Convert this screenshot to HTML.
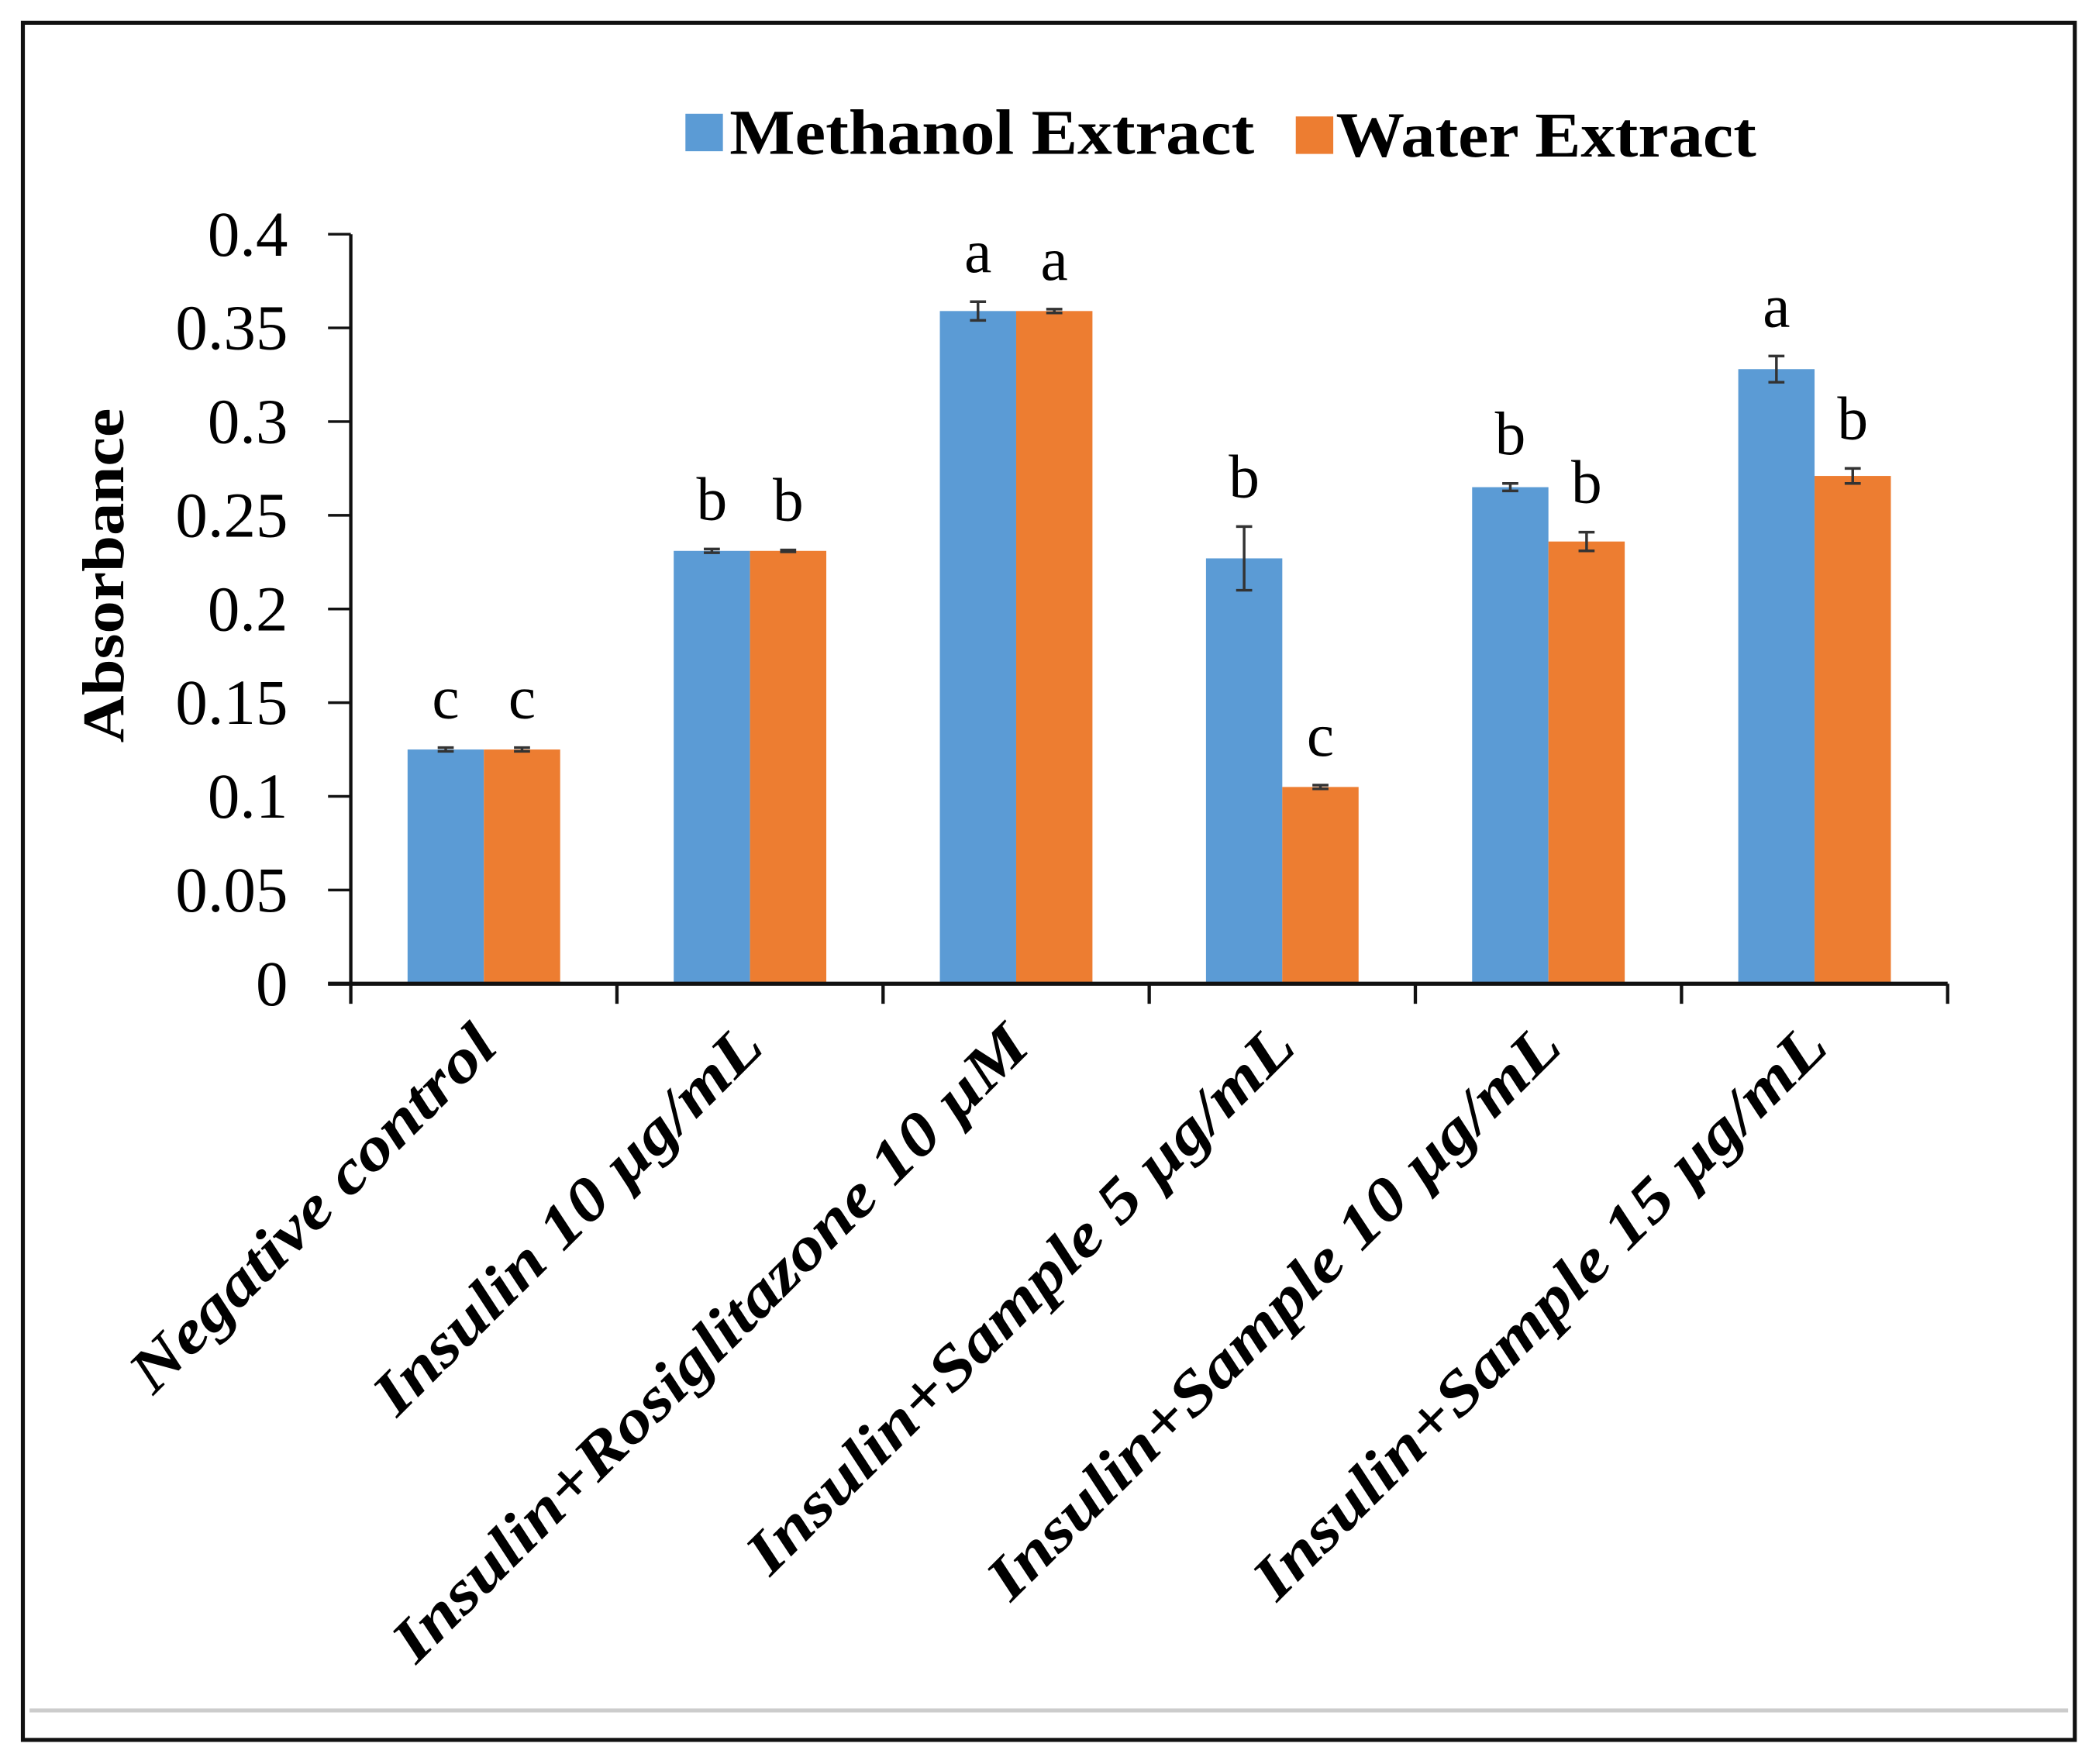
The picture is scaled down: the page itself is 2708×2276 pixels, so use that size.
<!DOCTYPE html>
<html><head><meta charset="utf-8"><style>html,body{margin:0;padding:0;background:#fff}svg{display:block}</style></head>
<body>
<svg width="2708" height="2276" viewBox="0 0 1568 1318" xmlns="http://www.w3.org/2000/svg" font-family="Liberation Serif, serif">
<rect x="17" y="17" width="1533" height="1283" fill="#fff" stroke="#111" stroke-width="3"/>
<line x1="22" y1="1278" x2="1545" y2="1278" stroke="#ccc" stroke-width="3"/>
<g>
<rect x="512" y="85" width="28" height="28" fill="#5b9bd5"/>
<text x="545" y="115" font-size="48" font-weight="bold" textLength="392" lengthAdjust="spacingAndGlyphs">Methanol Extract</text>
<rect x="968" y="87" width="28" height="28" fill="#ed7d31"/>
<text x="998" y="117" font-size="48" font-weight="bold" textLength="314" lengthAdjust="spacingAndGlyphs">Water Extract</text>
</g>
<text transform="translate(92,430) rotate(-90)" text-anchor="middle" font-size="44" font-weight="bold" textLength="250" lengthAdjust="spacingAndGlyphs">Absorbance</text>
<g id="plot"></g>
<script>
const categories = ["Negative control","Insulin 10 µg/mL","Insulin+Rosiglitazone 10 µM","Insulin+Sample 5 µg/mL","Insulin+Sample 10 µg/mL","Insulin+Sample 15 µg/mL"];
const methanol = [0.125,0.231,0.359,0.227,0.265,0.328];
const water = [0.125,0.231,0.359,0.105,0.236,0.271];
const methanolErr = [0.001,0.001,0.005,0.017,0.002,0.007];
const waterErr = [0.001,0.0005,0.001,0.001,0.005,0.004];
const methanolLetters = ["c","b","a","b","b","a"];
const waterLetters = ["c","b","a","c","b","b"];
const yTicks = [0,0.05,0.1,0.15,0.2,0.25,0.3,0.35,0.4];
const yTickLabels = ["0","0.05","0.1","0.15","0.2","0.25","0.3","0.35","0.4"];

const NS="http://www.w3.org/2000/svg";
const g=document.getElementById('plot');
const x0=262,x1=1455,yBase=735,yTop=175,yMax=0.4;
const step=(x1-x0)/categories.length;
const bw=57;
function y(v){return yBase-(v/yMax)*(yBase-yTop);}
function cx(i){return x0+step*(i+0.5);}
function mk(tag,attrs){const e=document.createElementNS(NS,tag);for(const k in attrs)e.setAttribute(k,attrs[k]);g.appendChild(e);return e;}

let e;
e=mk('line',{x1:x0,y1:yTop,x2:x0,y2:yBase,stroke:'#111','stroke-width':2.5});


yTicks.forEach((t,i)=>{
  e=mk('line',{x1:245,y1:y(t),x2:x0,y2:y(t),stroke:'#111','stroke-width':2});
  
  
  e=mk('text',{x:215,y:y(t)+16,'text-anchor':'end','font-size':48});
  e.textContent=yTickLabels[i];
  
  
});
categories.forEach((c,i)=>{
  const c0=cx(i);
  [[methanol,methanolErr,methanolLetters,'#5b9bd5',c0-bw,'methanol'],[water,waterErr,waterLetters,'#ed7d31',c0,'water']].forEach(s=>{
    const v=s[0][i],er=s[1][i],bx=s[4];
    e=mk('rect',{x:bx,y:y(v),width:bw,height:yBase-y(v),fill:s[3]});
    
    
    const m=bx+bw/2;
    e=mk('path',{d:`M${m},${y(v+er)}V${y(v-er)}M${m-6},${y(v+er)}H${m+6}M${m-6},${y(v-er)}H${m+6}`,stroke:'#333','stroke-width':2,fill:'none'});
    
    
    e=mk('text',{x:m,y:y(v+er)-22,'text-anchor':'middle','font-size':46});
    e.textContent=s[2][i];
    
    
  });
  e=mk('text',{transform:`translate(${c0+12},784) rotate(-45) scale(1.17,1)`,'text-anchor':'end','font-size':46,'font-weight':'bold','font-style':'italic'});
  e.textContent=c;
  
  
});
e=mk('line',{x1:245,y1:yBase,x2:x1,y2:yBase,stroke:'#111','stroke-width':3});


for(let i=0;i<=categories.length;i++){
  e=mk('line',{x1:x0+step*i,y1:yBase,x2:x0+step*i,y2:yBase+15,stroke:'#111','stroke-width':2.5});
  
  
}
</script>
</svg>
</body></html>
